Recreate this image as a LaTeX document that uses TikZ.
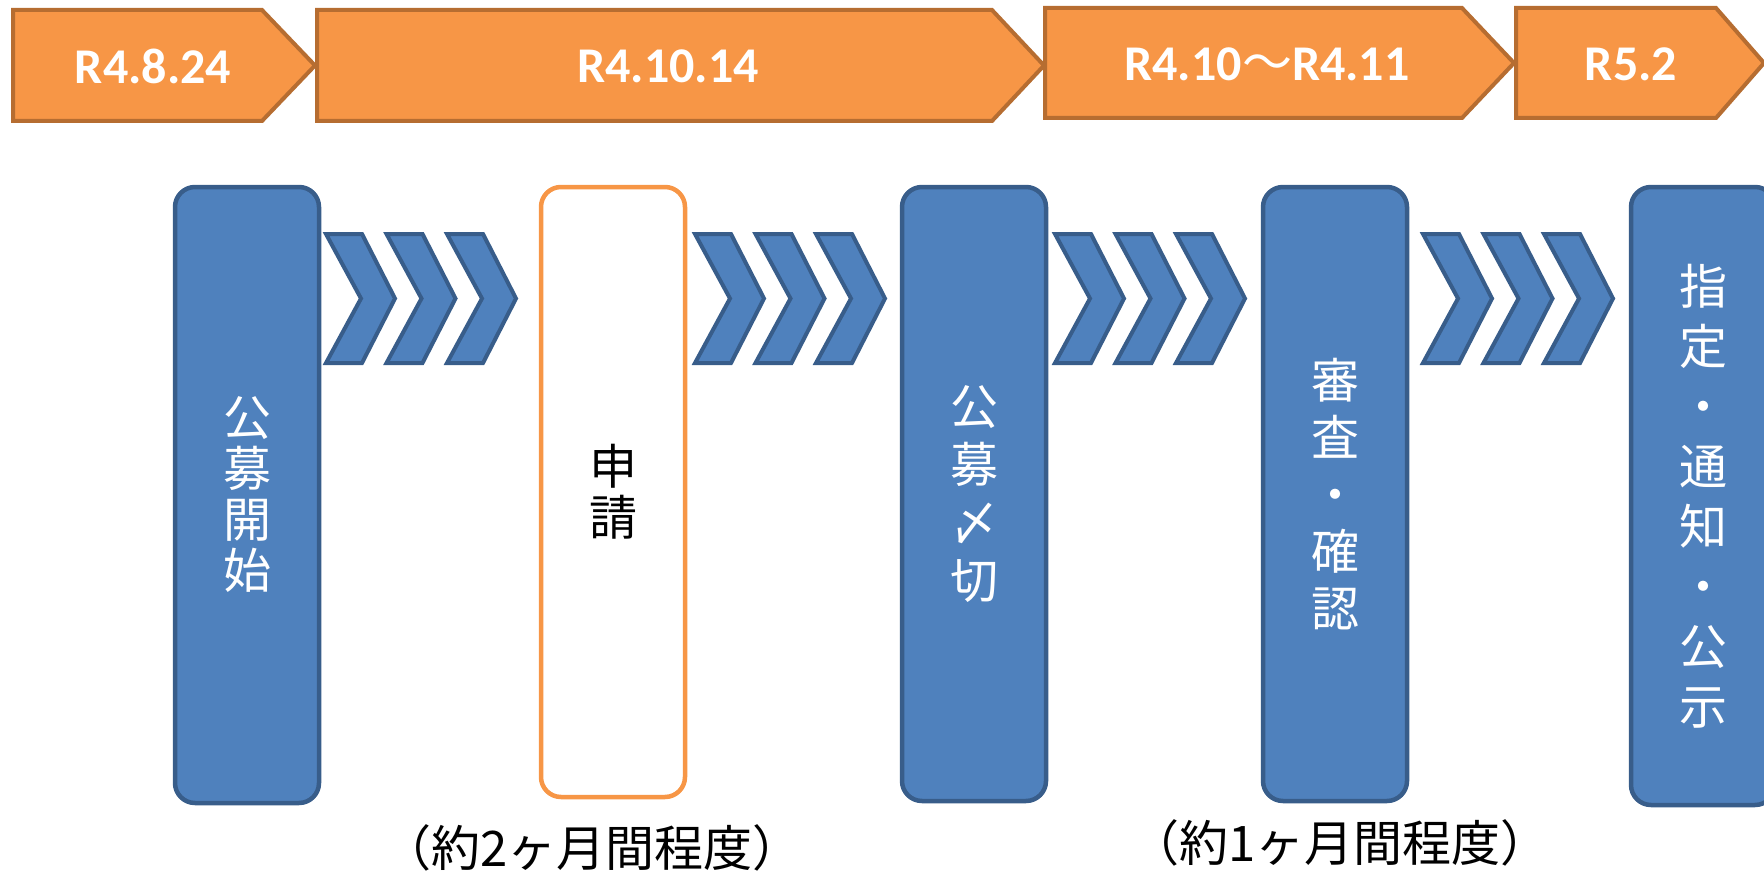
\documentclass[tikz,border=0pt]{standalone}
\usepackage{fontspec}
\newfontfamily\lat{Carlito}
\newfontfamily\jp{Noto Sans CJK JP}
\definecolor{orfill}{HTML}{F79646}
\definecolor{ordraw}{HTML}{B66D31}
\definecolor{blfill}{HTML}{4F81BD}
\definecolor{bldraw}{HTML}{385D8A}
\tikzset{
  band/.style={fill=orfill, draw=ordraw, line width=4pt, line join=miter},
  bandtext/.style={text=white, font=\lat\bfseries\fontsize{50}{50}\selectfont, inner sep=0pt},
  stepbox/.style={draw=bldraw, fill=blfill, line width=4.5pt, rounded corners=20pt,
    minimum width=144pt, text=white, align=center, inner sep=0pt},
  whitebox/.style={draw=orfill, fill=white, line width=4.5pt, rounded corners=20pt,
    minimum width=144pt, text=black, align=center, inner sep=0pt},
  chevline/.style={draw=bldraw, fill=blfill, line width=4pt, line join=miter},
  chev/.pic={\path[chevline] (0,0) -- (36,0) -- (69,64.5) -- (36,129) -- (0,129) -- (35,64.5) -- cycle;},
  note/.style={text=black, font=\jp\fontsize{49}{49}\selectfont, inner sep=0pt}
}
\begin{document}
\begin{tikzpicture}[x=1pt,y=-1pt]
\useasboundingbox (0,0) rectangle (1764,872);
\clip (0,0) rectangle (1764,872);
% top bands
\path[band] (13,10) -- (262,10) -- (315,65.5) -- (262,121) -- (13,121) -- cycle;
\path[band] (317,10) -- (992,10) -- (1044,65.5) -- (992,121) -- (317,121) -- cycle;
\path[band] (1045,8) -- (1462,8) -- (1514,63) -- (1462,118) -- (1045,118) -- cycle;
\path[band] (1516,8) -- (1716,8) -- (1764,63) -- (1716,118) -- (1516,118) -- cycle;
\node[bandtext] (t1) at (153,66) {R4.8.24};
\node[bandtext] (t2) at (668,66) {R4.10.14};
\node[bandtext] (t3) at (1267,64) {R4.10{\jp\mdseries 〜}R4.11};
\node[bandtext] (t4) at (1631,64) {R5.2};
% boxes
\node[stepbox, minimum height=616pt, font=\jp\fontsize{48}{51}\selectfont] (b1) at (247,495) {公\\募\\開\\始};
\node[whitebox, minimum height=610pt, font=\jp\fontsize{48}{51}\selectfont] (b2) at (613,492) {申\\請};
\node[stepbox, minimum height=614pt, font=\jp\fontsize{48}{58}\selectfont] (b3) at (974,494) {公\\募\\〆\\切};
\node[stepbox, minimum height=614pt, font=\jp\fontsize{48}{57}\selectfont] (b4) at (1335,494) {審\\査\\・\\確\\認};
\node[stepbox, minimum height=618pt, font=\jp\fontsize{48}{60}\selectfont] (b5) at (1703,496) {指\\定\\・\\通\\知\\・\\公\\示};
% chevrons
\foreach \x in {326,695,1055,1423}{
  \pic at (\x,234) {chev};
  \pic at (\x+60.5,234) {chev};
  \pic at (\x+121,234) {chev};
}
% notes
\node[note] (n1) at (592,848) {（約2ヶ月間程度）};
\node[note] (n2) at (1340,843) {（約1ヶ月間程度）};
\end{tikzpicture}
\end{document}
